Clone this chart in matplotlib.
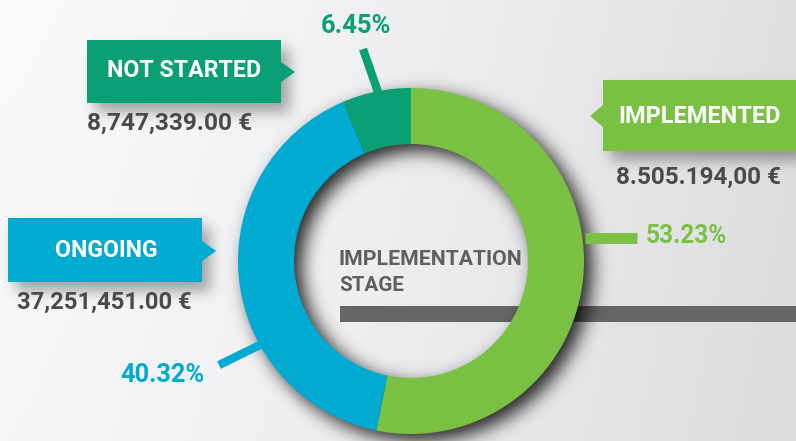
import numpy as np
import matplotlib
matplotlib.use('Agg')
import matplotlib.pyplot as plt
from matplotlib.patches import Polygon, Rectangle
from matplotlib.textpath import TextPath
from matplotlib.font_manager import FontProperties

# ---------------- data ----------------
stages = ['IMPLEMENTED', 'ONGOING', 'NOT STARTED']
shares = [53.23, 40.32, 6.45]
pct_labels = ['53.23%', '40.32%', '6.45%']
amounts = ['8.505.194,00 €', '37,251,451.00 €', '8,747,339.00 €']
colors = ['#7ac143', '#00aad0', '#0a9f74']
center_title = ['IMPLEMENTATION', 'STAGE']

W, H = 796, 441
FONT = ['Roboto', 'DejaVu Sans']
plt.rcParams['font.family'] = FONT

fig = plt.figure(figsize=(W / 100, H / 100), dpi=100)
ax = fig.add_axes([0, 0, 1, 1])


def Y(y):
    return H - y


# ---------------- background ----------------
xx = np.linspace(0, 1, W)[None, :]
yy = np.linspace(0, 1, H)[:, None]
b = 0.978 - 0.105 * xx ** 1.3 - 0.015 * yy
bg = np.dstack([b, b + 0.002, b + 0.010]).clip(0, 1)
ax.imshow(bg, extent=[0, W, 0, H], origin='upper', zorder=0, aspect='auto')

# ---------------- shadows ----------------
cx, cy, R_out, R_in = 411, 261, 173, 117


def blur(a, s):
    r = int(3 * s)
    k = np.exp(-0.5 * (np.arange(-r, r + 1) / s) ** 2)
    k /= k.sum()
    a = np.apply_along_axis(lambda v: np.convolve(v, k, mode='same'), 0, a)
    a = np.apply_along_axis(lambda v: np.convolve(v, k, mode='same'), 1, a)
    return a


pad = 40
PX = np.arange(-pad, W + pad)[None, :] + 0.5
PY = np.arange(-pad, H + pad)[:, None] + 0.5
rr = np.hypot(PX - (cx + 8), PY - (cy + 7))
ring_mask = ((rr <= R_out) & (rr >= R_in)).astype(float)
ring_sh = blur(ring_mask, 9)[pad:-pad, pad:-pad]

box_mask = np.zeros_like(PX * PY)
for (x0, x1, y0, y1) in [(87, 281, 40, 103), (603, 796, 80, 151), (8, 202, 218, 282)]:
    box_mask[(PY >= y0 + 9) & (PY <= y1 + 9) & (PX >= x0 + 8) & (PX <= x1 + 8)] = 1.0
box_sh = blur(box_mask, 7)[pad:-pad, pad:-pad]

alpha = np.clip(0.85 * ring_sh + 0.35 * box_sh, 0, 0.9)
sh = np.zeros((H, W, 4))
sh[..., 3] = alpha
ax.imshow(sh, extent=[0, W, 0, H], origin='upper', zorder=2, aspect='auto')

# gray bar (under shadow)
ax.add_patch(Rectangle((340, Y(322)), W - 340, 16, color='#666666', lw=0, zorder=1.5))

# ---------------- donut ----------------
wedges, _ = ax.pie(shares, colors=colors, startangle=90, counterclock=False,
                   radius=R_out, center=(cx, Y(cy)), frame=True,
                   wedgeprops=dict(width=R_out - R_in, linewidth=0, zorder=3))
for w in wedges:
    w.set_zorder(3)

ax.set_xlim(0, W)
ax.set_ylim(0, H)
ax.set_aspect('auto')
ax.axis('off')

# leader lines
ax.plot([585, 637], [Y(237.5), Y(237.5)], color=colors[0], lw=7.8, solid_capstyle='butt', zorder=2.5)
ax.plot([219, 262], [Y(365), Y(344)], color=colors[1], lw=6.0, solid_capstyle='butt', zorder=2.5)
ax.plot([363, 378], [Y(49), Y(92)], color=colors[2], lw=6.0, solid_capstyle='butt', zorder=2.5)

# label boxes with pointer
boxes = {
    'IMPLEMENTED': [(603, 80), (796, 80), (796, 151), (603, 151), (603, 127), (590, 116), (603, 105)],
    'ONGOING': [(8, 218), (202, 218), (202, 241), (216, 251), (202, 261), (202, 282), (8, 282)],
    'NOT STARTED': [(87, 40), (281, 40), (281, 62), (295, 72), (281, 82), (281, 103), (87, 103)],
}
for name, col in zip(stages, colors):
    pts = [(x, Y(y)) for x, y in boxes[name]]
    ax.add_patch(Polygon(pts, closed=True, color=col, lw=0, zorder=4))

renderer = fig.canvas.get_renderer()
cap_ratio = TextPath((0, 0), 'H', size=100,
                     prop=FontProperties(family=FONT, weight='bold')).get_extents().height / 100


def fit_text(s, x0, x1, baseline, cap, color, align='center', weight='bold'):
    xa = {'left': x0, 'center': (x0 + x1) / 2}[align]
    t = ax.text(xa, Y(baseline), s, ha=align, va='baseline', color=color,
                fontsize=16, fontweight=weight, zorder=6)
    w = t.get_window_extent(renderer).width
    fs_w = 16 * (x1 - x0) / w
    fs_h = cap / cap_ratio * 0.72
    t.set_fontsize((fs_w * fs_h) ** 0.5)
    return t


# box titles
fit_text(stages[0], 620, 779, 123, 17, 'white')
fit_text(stages[1], 57, 156, 257, 17, 'white')
fit_text(stages[2], 110, 259, 77, 17, 'white')

# amounts
dark = '#4a4a4a'
fit_text(amounts[0], 616, 782, 184, 17, dark)
fit_text(amounts[1], 18, 190, 309, 17, dark)
fit_text(amounts[2], 87, 256, 130, 17, dark, align='left')

# percentages
fit_text(pct_labels[0], 646, 730, 243, 17, colors[0], align='left')
fit_text(pct_labels[1], 120, 205, 382, 18, colors[1])
fit_text(pct_labels[2], 321, 392, 33, 18, colors[2])

# center title
mid = '#5f5f5f'
fit_text(center_title[0], 339, 513, 265, 16, mid, align='left')
fit_text(center_title[1], 339, 399, 291, 16, mid, align='left')

fig.savefig('out.png', dpi=100)
